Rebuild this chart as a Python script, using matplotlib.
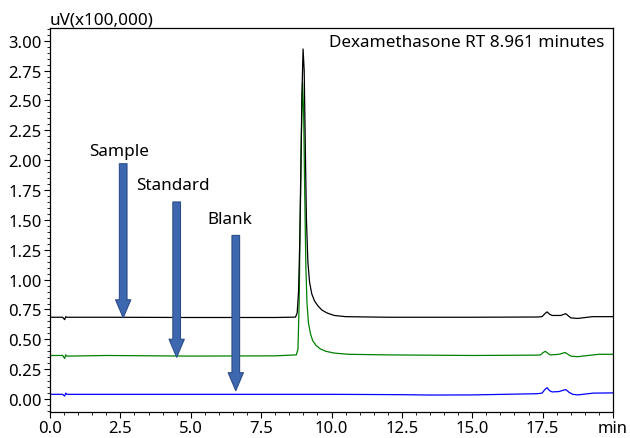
import matplotlib
matplotlib.use("Agg")
import matplotlib.pyplot as plt
from matplotlib.ticker import MultipleLocator

sample_t = [0.0, 0.45, 0.52, 0.56, 0.60, 0.7, 2.0, 5.0, 8.0, 8.72, 8.78, 8.83, 8.87, 8.91, 8.95, 8.99,
            9.03, 9.07, 9.11, 9.16, 9.22, 9.30, 9.40, 9.52, 9.66, 9.85, 10.1, 10.5, 12.0, 15.0, 17.3,
            17.48, 17.58, 17.66, 17.75, 17.84, 18.0, 18.14, 18.32, 18.5, 18.74, 19.27, 20.0]
sample_v = [0.685, 0.685, 0.665, 0.69, 0.685, 0.685, 0.685, 0.683, 0.683, 0.686, 0.72, 0.9, 1.3, 1.9, 2.55,
            2.93, 2.75, 2.1, 1.5, 1.15, 0.98, 0.88, 0.82, 0.78, 0.745, 0.72, 0.70, 0.69, 0.685, 0.685, 0.687,
            0.69, 0.715, 0.73, 0.71, 0.70, 0.70, 0.70, 0.715, 0.68, 0.675, 0.69, 0.69]

standard_t = [0.0, 0.45, 0.52, 0.56, 0.60, 0.7, 2.0, 5.0, 8.0, 8.75, 8.81, 8.85, 8.89, 8.93, 8.97,
              9.01, 9.05, 9.09, 9.13, 9.18, 9.25, 9.33, 9.45, 9.6, 9.8, 10.1, 10.6, 12.0, 15.0, 17.3,
              17.43, 17.52, 17.6, 17.7, 17.78, 18.08, 18.3, 18.5, 18.74, 19.5, 20.0]
standard_v = [0.365, 0.365, 0.34, 0.37, 0.36, 0.36, 0.365, 0.36, 0.362, 0.37, 0.42, 0.8, 1.5, 2.2, 2.65,
              2.4, 1.7, 1.1, 0.8, 0.64, 0.55, 0.49, 0.45, 0.42, 0.40, 0.385, 0.375, 0.37, 0.365, 0.368,
              0.37, 0.39, 0.40, 0.38, 0.37, 0.375, 0.39, 0.36, 0.355, 0.375, 0.375]

blank_t = [0.0, 0.45, 0.52, 0.56, 0.60, 0.7, 2.0, 5.0, 10.0, 12.5, 13.5, 15.0, 17.3, 17.48, 17.58, 17.66,
           17.75, 17.84, 18.08, 18.32, 18.45, 18.57, 18.74, 19.3, 20.0]
blank_v = [0.04, 0.04, 0.025, 0.05, 0.04, 0.04, 0.04, 0.04, 0.04, 0.037, 0.034, 0.035, 0.045, 0.05, 0.08,
           0.095, 0.07, 0.06, 0.063, 0.08, 0.055, 0.04, 0.035, 0.05, 0.052]

# arrows: (label, x, top, tip)
arrow_labels = ["Sample", "Standard", "Blank"]
arrow_x = [2.6, 4.5, 6.6]
arrow_top = [1.97, 1.65, 1.37]
arrow_tip = [0.68, 0.35, 0.07]
label_x = [2.45, 4.38, 6.4]
label_y = [2.08, 1.79, 1.51]

xticks = [0.0, 2.5, 5.0, 7.5, 10.0, 12.5, 15.0, 17.5, 20.0]
xticklabels = ["0.0", "2.5", "5.0", "7.5", "10.0", "12.5", "15.0", "17.5", "min"]
yticks = [0.0, 0.25, 0.5, 0.75, 1.0, 1.25, 1.5, 1.75, 2.0, 2.25, 2.5, 2.75, 3.0]

plt.rcParams['font.family'] = ['Noto Sans', 'DejaVu Sans']

fig = plt.figure(figsize=(6.3, 4.39), dpi=100)
ax = fig.add_axes([50/630, 1 - 413/439, 563/630, 384/439])

ax.plot(blank_t, blank_v, color="#0000ff", lw=0.9)
ax.plot(standard_t, standard_v, color="#008000", lw=0.9)
ax.plot(sample_t, sample_v, color="#000000", lw=0.9)

for lab, x, top, tip, lx, ly in zip(arrow_labels, arrow_x, arrow_top, arrow_tip, label_x, label_y):
    ax.annotate("", xy=(x, tip), xytext=(x, top),
                arrowprops=dict(arrowstyle="simple,head_length=1.3,head_width=1.1,tail_width=0.55",
                                fc="#3d68b0", ec="#2c4d88", lw=0.8, shrinkA=0, shrinkB=0,
                                mutation_scale=10))
    ax.text(lx, ly, lab, ha="center", va="center", fontsize=12.3)

ax.text(0.985, 0.963, "Dexamethasone RT 8.961 minutes", transform=ax.transAxes,
        ha="right", va="center", fontsize=12.3)
ax.text(0.0, 1.0, "uV(x100,000)", transform=ax.transAxes, ha="left", va="bottom", fontsize=12.3)

ax.set_xlim(0, 20)
ax.set_ylim(-0.108, 3.106)
ax.set_xticks(xticks)
ax.set_xticklabels(xticklabels)
ax.set_yticks(yticks)
ax.set_yticklabels(["%.2f" % v for v in yticks])
ax.xaxis.set_minor_locator(MultipleLocator(0.5))
ax.yaxis.set_minor_locator(MultipleLocator(0.05))
ax.tick_params(which="major", length=4, width=0.8, labelsize=12, pad=2, direction="out")
ax.tick_params(which="minor", length=2, width=0.6, direction="out")
for s in ax.spines.values():
    s.set_linewidth(0.9)

fig.savefig("out.png", dpi=100)
